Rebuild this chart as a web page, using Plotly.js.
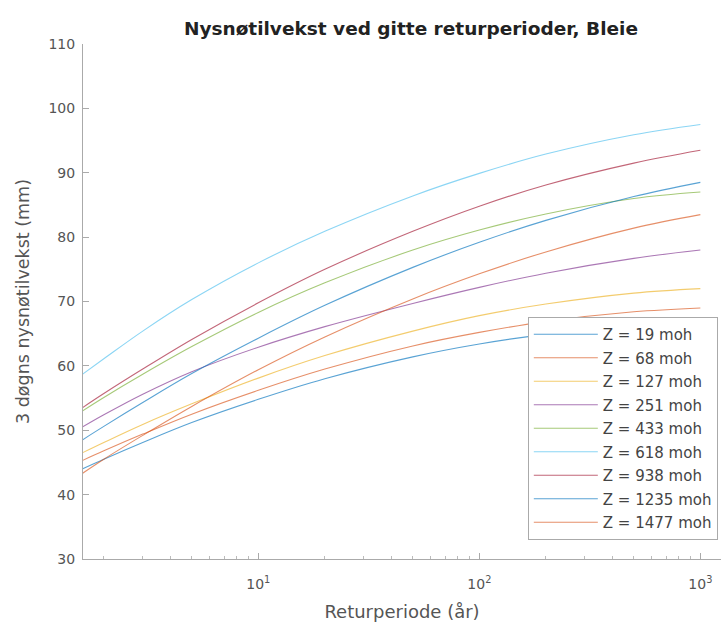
<!DOCTYPE html>
<html>
<head>
<meta charset="utf-8">
<script src="https://cdn.plot.ly/plotly-3.0.1.min.js"></script>
<style>html,body{margin:0;padding:0;background:#fff;}#chart{width:728px;height:625px;}</style>
</head>
<body>
<div id="chart"></div>
<script>
// Return periods (years)
const returnPeriods = [1.6, 2, 3, 5, 10, 20, 50, 100, 200, 500, 1000];

// Series names
const seriesNames = ["Z = 19 moh", "Z = 68 moh", "Z = 127 moh", "Z = 251 moh", "Z = 433 moh",
                     "Z = 618 moh", "Z = 938 moh", "Z = 1235 moh", "Z = 1477 moh"];

// Values (mm)
const z19   = [44.0, 45.5, 48.1, 51.2, 54.8, 58.0, 61.4, 63.4, 64.9, 66.2, 66.5];
const z68   = [45.3, 46.8, 49.4, 52.5, 56.2, 59.5, 63.1, 65.2, 66.9, 68.4, 69.0];
const z127  = [46.5, 48.1, 50.9, 54.1, 58.1, 61.6, 65.4, 67.8, 69.6, 71.3, 72.0];
const z251  = [50.5, 52.4, 55.6, 59.1, 62.9, 66.1, 69.7, 72.2, 74.4, 76.7, 78.0];
const z433  = [53.0, 55.1, 58.7, 63.0, 68.3, 72.9, 78.0, 81.1, 83.6, 86.0, 87.0];
const z618  = [58.7, 61.1, 65.4, 70.3, 76.0, 80.9, 86.4, 89.9, 92.9, 95.9, 97.5];
const z938  = [53.5, 55.7, 59.5, 64.1, 69.8, 75.0, 80.9, 84.8, 88.1, 91.5, 93.5];
const z1235 = [48.5, 50.6, 54.3, 58.8, 64.3, 69.4, 75.3, 79.2, 82.6, 86.3, 88.5];
const z1477 = [43.3, 45.5, 49.2, 53.7, 59.4, 64.5, 70.4, 74.3, 77.7, 81.4, 83.5];

const seriesValues = [z19, z68, z127, z251, z433, z618, z938, z1235, z1477];
const seriesColors = ["#0072BD", "#D95319", "#EDB120", "#7E2F8E", "#77AC30",
                      "#4DBEEE", "#A2142F", "#0072BD", "#D95319"];

// Tick labels
const yTicks = [30, 40, 50, 60, 70, 80, 90, 100, 110];
const xTicks = [10, 100, 1000];
const xTickText = ["10<sup>1</sup>", "10<sup>2</sup>", "10<sup>3</sup>"];
const xMinor = [2,3,4,5,6,7,8,9,20,30,40,50,60,70,80,90,200,300,400,500,600,700,800,900];

const traces = seriesNames.map((name, i) => ({
  type: "scatter",
  mode: "lines",
  name: name,
  x: returnPeriods,
  y: seriesValues[i],
  line: {color: seriesColors[i], width: 1.1, shape: "spline", smoothing: 1},
  opacity: 0.65,
  legendgroup: "g" + i
}));

const FONT = "DejaVu Sans, Verdana, sans-serif";
const tickFont = {family: FONT, size: 14, color: "#555"};

const layout = {
  width: 728, height: 625,
  margin: {l: 83, r: 7, t: 44, b: 66},
  paper_bgcolor: "#fff", plot_bgcolor: "#fff",
  showlegend: true,
  title: {
    text: "<b>Nysnøtilvekst ved gitte returperioder, Bleie</b>",
    font: {family: FONT, size: 18.5, color: "#222"},
    x: 0.514, xanchor: "center", xref: "paper", y: 0.955, yanchor: "middle"
  },
  xaxis: {
    type: "log",
    range: [Math.log10(1.61), Math.log10(1240)],
    tickmode: "array", tickvals: xTicks, ticktext: xTickText,
    ticks: "inside", ticklen: 6, tickcolor: "#aaa", tickwidth: 1,
    minor: {tickmode: "array", tickvals: xMinor, ticks: "inside", ticklen: 3, tickcolor: "#bbb", showgrid: false},
    showline: true, linecolor: "#aaa", linewidth: 1,
    showgrid: false, zeroline: false,
    tickfont: tickFont,
    ticklabelstandoff: 12,
    title: {text: "Returperiode (år)", font: {family: FONT, size: 18, color: "#555"}, standoff: 14}
  },
  yaxis: {
    range: [30, 110],
    tickmode: "array", tickvals: yTicks,
    ticks: "inside", ticklen: 6, tickcolor: "#aaa", tickwidth: 1,
    showline: true, linecolor: "#aaa", linewidth: 1,
    showgrid: false, zeroline: false,
    tickfont: tickFont,
    ticklabelstandoff: 4,
    title: {text: "3 døgns nysnøtilvekst (mm)", font: {family: FONT, size: 17.5, color: "#555"}, standoff: 14}
  },
  legend: {
    x: 0.995, xanchor: "right", y: 0.037, yanchor: "bottom",
    bgcolor: "#fff", bordercolor: "#aaa", borderwidth: 1,
    font: {family: FONT, size: 15, color: "#444"},
    itemwidth: 64,
    traceorder: "grouped", tracegroupgap: 1
  }
};

Plotly.newPlot("chart", traces, layout, {displayModeBar: false, staticPlot: true});
</script>
</body>
</html>
